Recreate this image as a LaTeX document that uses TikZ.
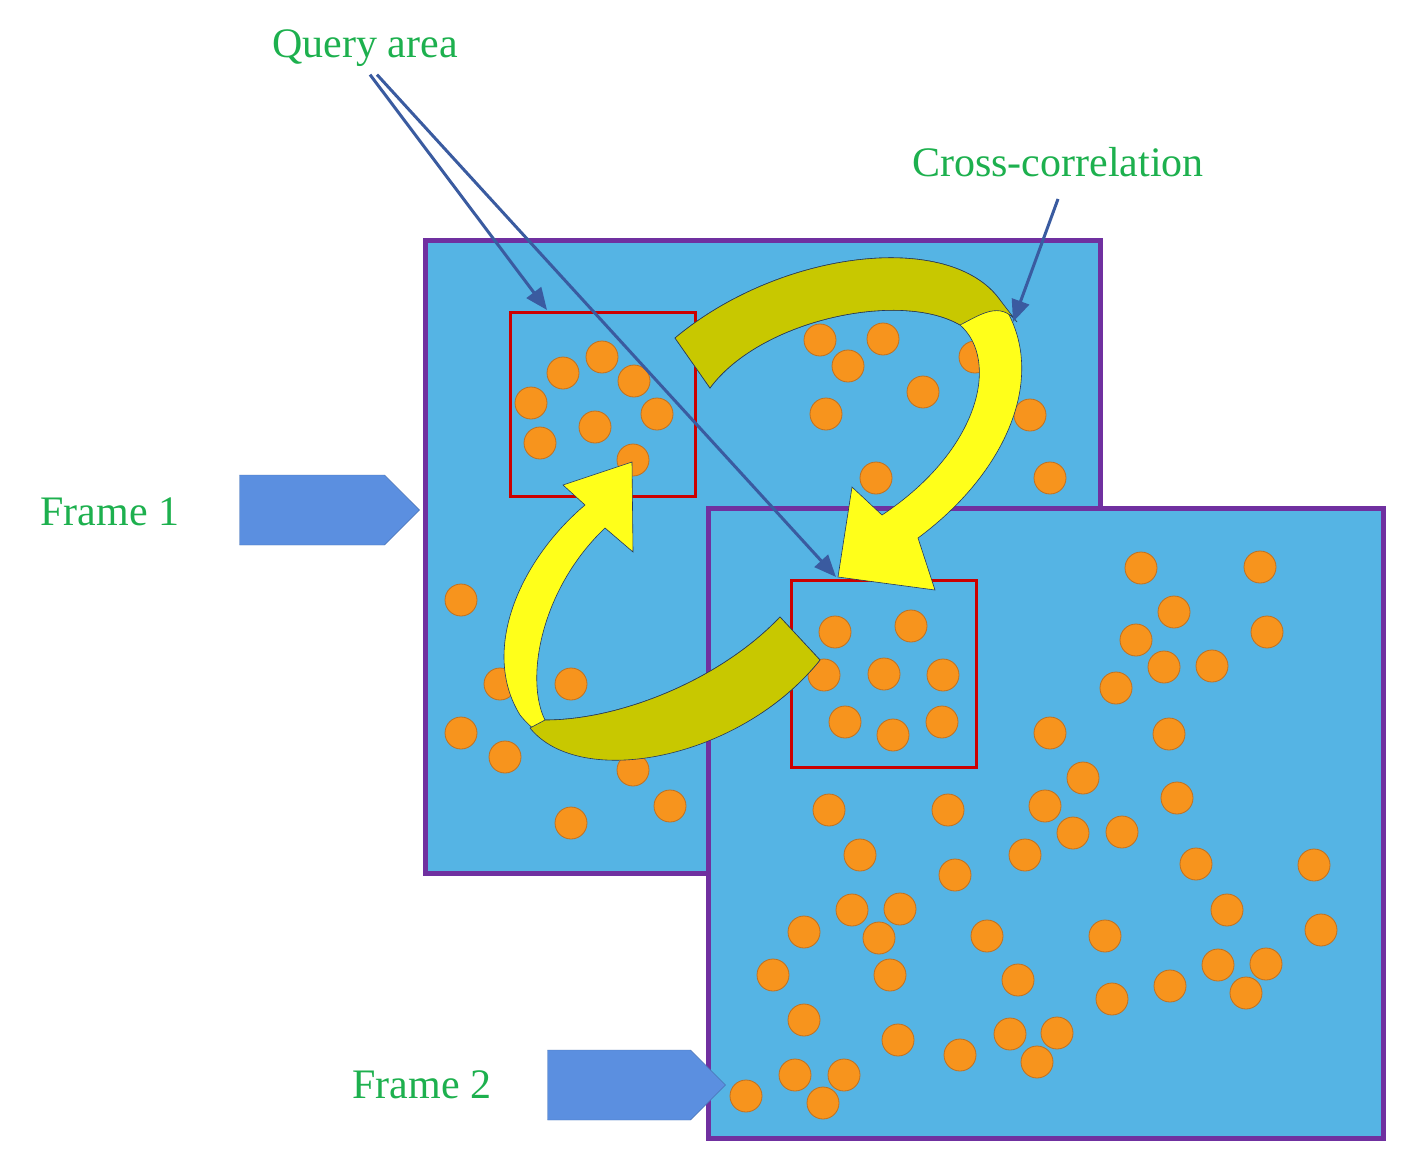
\documentclass[tikz,border=0pt]{standalone}
\usepackage{fontspec}
\setmainfont{Liberation Serif}
\usetikzlibrary{arrows.meta,shapes.arrows}
\definecolor{bg}{HTML}{55B4E4}
\definecolor{fr}{HTML}{7030A0}
\definecolor{dot}{HTML}{F7941D}
\definecolor{dotb}{HTML}{C07020}
\definecolor{lab}{HTML}{1DB04E}
\definecolor{blk}{HTML}{5B8FE0}
\definecolor{ptr}{HTML}{3A5BA0}
\definecolor{yel}{HTML}{FFFF1A}
\definecolor{oli}{HTML}{C8C800}
\begin{document}
\begin{tikzpicture}[x=1pt,y=-1pt,
 frame/.style={draw=fr,line width=5pt,fill=bg},
 qbox/.style={draw=red!80!black,line width=3pt},
 lbl/.style={text=lab,font=\fontsize{42}{44}\selectfont,inner sep=0},
 ptrline/.style={draw=ptr,line width=3pt,-{Triangle[length=22pt,width=18pt]}},
 barrow/.style={single arrow,fill=blk,draw=blk!80!black,minimum height=180pt,minimum width=70pt,single arrow head extend=0pt,inner sep=16pt},
 rib/.style={draw=ptr!60!black,line width=0.6pt}]
\useasboundingbox (0,0) rectangle (1418,1164);
\def\dots#1{\foreach \p in {#1}{\fill[dot,draw=dotb,line width=0.8pt] \p circle (16);}}
% Frame 1
\draw[frame] (425,240) rectangle (1100,873);
\dots{(563,373),(602,357),(634,381),(531,403),(595,427),(657,414),(540,443),(633,460),(820,340),(883,339),(848,366),(975,357),(923,392),(826,414),(1030,415),(876,478),(1050,478),(461,600),(500,684),(571,684),(461,733),(505,757),(571,823),(670,806),(633,770)}
\draw[qbox] (510,312) rectangle (695,496);
% Frame 2
\draw[frame] (708,508) rectangle (1383,1138);
\dots{(1141,568),(1260,567),(1174,612),(1267,632),(1136,640),(1164,667),(1212,666),(1116,688),(835,632),(911,626),(824,675),(884,674),(943,675),(845,722),(893,735),(942,722),(1050,733),(1169,734),(1083,778),(1177,798),(829,810),(948,810),(1045,806),(1073,833),(1122,832),(860,855),(1025,855),(1196,864),(1314,865),(955,875),(852,910),(900,909),(804,932),(879,938),(987,936),(1105,936),(1227,910),(1321,930),(773,975),(890,975),(1018,980),(1112,999),(1170,986),(1218,965),(1266,964),(1246,993),(804,1020),(898,1040),(960,1055),(1010,1034),(1057,1033),(1037,1062),(746,1096),(795,1075),(844,1075),(823,1103)}
\draw[qbox] (791,580) rectangle (976,767);
% top curved arrow
\fill[yel,rib] (675,338) .. controls (780,250) and (950,230) .. (1000,300)
 .. controls (1050,370) and (1010,470) .. (918,538) -- (935,590) -- (838,577) -- (852,487) -- (882,515)
 .. controls (980,450) and (1000,360) .. (960,325)
 .. controls (900,290) and (760,320) .. (710,388) -- cycle;
\fill[oli,rib] (675,338) .. controls (780,250) and (950,230) .. (1000,300) -- (1017,322)
 .. controls (1000,300) and (980,315) .. (960,325)
 .. controls (900,290) and (760,320) .. (710,388) -- cycle;
% bottom curved arrow
\fill[yel,rib] (780,617) -- (820,660) .. controls (740,760) and (580,790) .. (520,715)
 .. controls (480,650) and (520,560) .. (585,505) -- (563,485) -- (632,462) -- (633,552) -- (605,528)
 .. controls (540,590) and (525,680) .. (545,720)
 .. controls (620,720) and (720,680) .. (780,617) -- cycle;
\fill[oli,rib] (780,617) -- (820,660) .. controls (740,760) and (580,790) .. (530,728)
 -- (545,720) .. controls (620,720) and (720,680) .. (780,617) -- cycle;
% labels
\node[lbl] (qa) at (365,48) {Query area};
\node[lbl] (cc) at (1058,162) {Cross-correlation};
\node[lbl] (f1) at (110,512) {Frame 1};
\node[lbl] (f2) at (422,1085) {Frame 2};
\coordinate (q1) at (547,310);
\coordinate (q2) at (836,577);
\coordinate (c1) at (1013,322);
\draw[ptrline] (qa.south) ++(5,8) -- (q1);
\draw[ptrline] (qa.south) ++(12,8) -- (q2);
\draw[ptrline] (cc.south) ++(0,22) -- (c1);
% block arrows
\node[barrow,minimum height=180pt] (a1) at (312,510) {};
\node[barrow,minimum height=178pt] (a2) at (619,1085) {};
\end{tikzpicture}
\end{document}
